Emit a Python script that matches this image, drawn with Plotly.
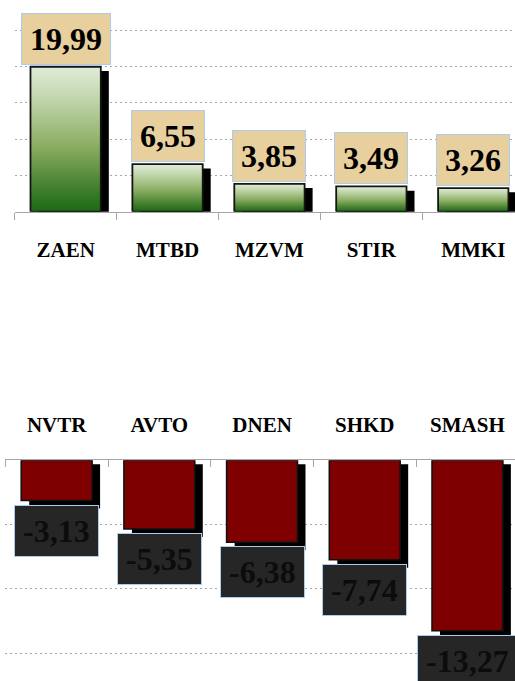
import plotly.graph_objects as go

# ---- data ----
top_categories = ["ZAEN", "MTBD", "MZVM", "STIR", "MMKI"]
top_values = [19.99, 6.55, 3.85, 3.49, 3.26]
bottom_categories = ["NVTR", "AVTO", "DNEN", "SHKD", "SMASH"]
bottom_values = [-3.13, -5.35, -6.38, -7.74, -13.27]

W, H = 515, 681
FONT = "Liberation Serif"

# ---- layout geometry (pixels) ----
top_left_px, top_base_px, top_ky = 14.7, 211.7, 7.25      # px per unit
bot_left_px, bot_base_px, bot_ky = 5.3, 460.3, 12.85
top_kx, bot_kx = 101.9, 102.7                              # px per category
BAR_W = 0.69
VAL_FS = 32

top_range_y = [0, top_base_px / top_ky]
bot_range_y = [-(H - bot_base_px) / bot_ky, 0]
top_range_x = [-0.5, -0.5 + (W - top_left_px) / top_kx]
bot_range_x = [-0.5, -0.5 + (W - bot_left_px) / bot_kx]

def fmt(v):
    return f"{v:.2f}".replace(".", ",")

def text_w(s, fs=VAL_FS):
    w = 0
    for ch in s:
        w += 0.5 if ch.isdigit() else (0.25 if ch == "," else 0.333)
    return w * fs

fig = go.Figure()

idx = list(range(len(top_values)))

# top shadows
sdx_t, sdy_t = 8 / top_kx, 4.3 / top_ky
fig.add_trace(go.Bar(x=idx, y=top_values, base=-sdy_t, width=BAR_W,
                     offset=-BAR_W / 2 + sdx_t,
                     marker=dict(color="black", line=dict(width=0)),
                     xaxis="x", yaxis="y", showlegend=False, hoverinfo="skip"))

# top gradient bars
for i, v in enumerate(top_values):
    x0, x1 = i - BAR_W / 2, i + BAR_W / 2
    fig.add_trace(go.Scatter(
        x=[x0, x1, x1, x0, x0], y=[0, 0, v, v, 0],
        mode="lines", fill="toself",
        line=dict(color="#151515", width=1.8),
        fillgradient=dict(type="vertical",
                          colorscale=[[0, "#1b6a12"], [0.15, "#3f7d2c"],
                                      [0.45, "#8aad60"], [0.75, "#bcd3a6"],
                                      [1, "#e1ecd8"]]),
        xaxis="x", yaxis="y", showlegend=False, hoverinfo="skip"))

# bottom shadows (4px below top, 8px below bar end, 8px right)
bidx = list(range(len(bottom_values)))
sdx_b = 8 / bot_kx
fig.add_trace(go.Bar(x=bidx, y=[v - 4 / bot_ky for v in bottom_values],
                     base=-4 / bot_ky, width=BAR_W,
                     offset=-BAR_W / 2 + sdx_b,
                     marker=dict(color="black", line=dict(width=0)),
                     xaxis="x2", yaxis="y2", showlegend=False, hoverinfo="skip"))

# bottom bars
fig.add_trace(go.Bar(x=bidx, y=bottom_values, width=BAR_W,
                     marker=dict(color="#7f0000", line=dict(color="#111111", width=1.6)),
                     xaxis="x2", yaxis="y2", showlegend=False, hoverinfo="skip"))

annotations = []
for i, v in enumerate(top_values):
    t = fmt(v)
    annotations.append(dict(
        x=i, y=v, xref="x", yref="y", text=f"<b>{t}</b>", showarrow=False,
        xanchor="center", yanchor="bottom", yshift=2,
        width=text_w(t) + 16, height=50, borderpad=0,
        bgcolor="#e7cf9e", bordercolor="#a9cdee", borderwidth=1,
        font=dict(family=FONT, size=VAL_FS, color="black")))
for i, v in enumerate(bottom_values):
    t = fmt(v)
    annotations.append(dict(
        x=i, y=v, xref="x2", yref="y2", text=f"<b>{t}</b>", showarrow=False,
        xanchor="center", yanchor="top", yshift=-4,
        width=text_w(t) + 16, height=50, borderpad=0,
        bgcolor="#262626", bordercolor="#a9cdee", borderwidth=1,
        font=dict(family=FONT, size=VAL_FS, color="#0c0c0c")))

grid = dict(showgrid=True, gridcolor="#a8a8a8", griddash="2px,3px", gridwidth=1,
            dtick=5, tick0=0, showticklabels=False, zeroline=False, showline=False,
            ticks="", fixedrange=True)

catfont = dict(family=FONT, size=21, color="black", weight="bold")

fig.update_layout(
    width=W, height=H, margin=dict(l=0, r=0, t=0, b=0),
    paper_bgcolor="white", plot_bgcolor="white",
    barmode="overlay", showlegend=False,
    annotations=annotations,
    xaxis=dict(domain=[top_left_px / W, 1], range=top_range_x, anchor="y",
               tickmode="array", tickvals=idx, ticktext=top_categories,
               ticks="", showgrid=False, zeroline=False,
               showline=True, linecolor="#a6a6a6", linewidth=1,
               minor=dict(tickmode="array", tickvals=[i - 0.5 for i in range(len(idx) + 1)],
                          ticks="outside", ticklen=7, tickcolor="#a6a6a6", tickwidth=1,
                          showgrid=False),
               ticklabelstandoff=19,
               tickfont=catfont),
    yaxis=dict(domain=[1 - top_base_px / H, 1], range=top_range_y, anchor="x", **grid),
    xaxis2=dict(domain=[bot_left_px / W, 1], range=bot_range_x, anchor="y2", side="top",
                tickmode="array", tickvals=bidx, ticktext=bottom_categories,
                ticks="", showgrid=False, zeroline=False,
                showline=True, linecolor="#a6a6a6", linewidth=1,
                minor=dict(tickmode="array", tickvals=[i - 0.5 for i in range(len(bidx) + 1)],
                           ticks="inside", ticklen=7, tickcolor="#a6a6a6", tickwidth=1,
                           showgrid=False),
                ticklabelstandoff=19,
                tickfont=catfont),
    yaxis2=dict(domain=[0, 1 - bot_base_px / H], range=bot_range_y, anchor="x2", **grid),
)

fig.write_html("out.html", config={"displayModeBar": False, "staticPlot": True},
               post_script="document.body.style.margin='0';document.body.style.overflow='hidden';")
